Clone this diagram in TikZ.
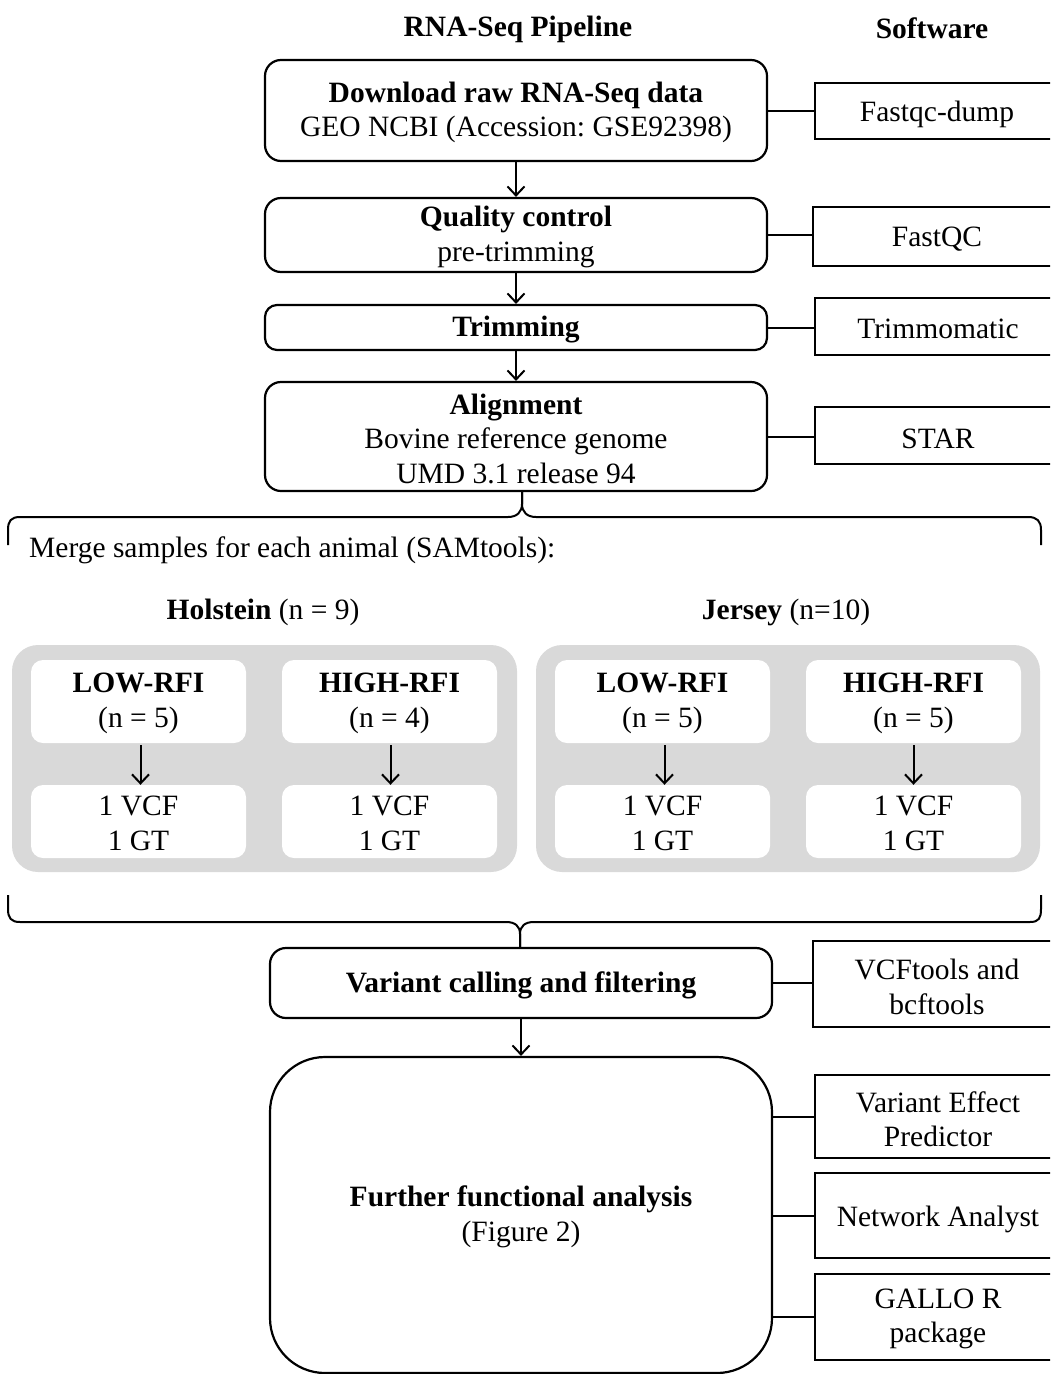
\documentclass[tikz,border=0pt]{standalone}
\usepackage{fontspec}
\setmainfont{Liberation Serif}
\usetikzlibrary{arrows.meta}
\definecolor{panelgray}{HTML}{D9D9D9}
\frenchspacing
\begin{document}
\begin{tikzpicture}[x=1pt,y=-1pt,
  every node/.style={font=\fontsize{29.5}{34.5}\selectfont, align=center, inner sep=0pt},
  pipe/.style={draw, line width=2.2pt, rounded corners=16pt},
  soft/.style={draw, line width=2pt},
  panel/.style={fill=panelgray, rounded corners=26pt},
  inbox/.style={fill=white, rounded corners=12pt},
  arr/.style={line width=2pt, -{Straight Barb[length=9pt,width=17pt,line width=2pt]}},
  link/.style={line width=2pt},
  lbl/.style={yshift=-2pt},
]
\clip (0,0) rectangle (1050,1374);
\useasboundingbox (0,0) rectangle (1050,1374);

% titles
\node[font=\fontsize{29.5}{34.5}\selectfont\bfseries] (tpipe) at (518,29) {RNA-Seq Pipeline};
\node[font=\fontsize{29.5}{34.5}\selectfont\bfseries] (tsoft) at (932,28) {Software};

% pipeline boxes
\node[pipe, minimum width=502pt, minimum height=101pt] (b1) at (516,110.5) {};
\node[lbl] (b1t) at (b1) {\textbf{Download raw RNA-Seq data}\\GEO NCBI (Accession: GSE92398)};
\node[pipe, minimum width=502pt, minimum height=74pt] (b2) at (516,235) {};
\node[lbl] (b2t) at (b2) {\textbf{Quality control}\\pre-trimming};
\node[pipe, minimum width=502pt, minimum height=45pt, rounded corners=12pt] (b3) at (516,327.5) {};
\node[lbl] (b3t) at (b3) {\textbf{Trimming}};
\node[pipe, minimum width=502pt, minimum height=109pt] (b4) at (516,436.5) {};
\node[lbl] (b4t) at (b4) {\textbf{Alignment}\\Bovine reference genome\\UMD 3.1 release 94};

% software boxes
\node[soft, minimum width=245pt, minimum height=56pt] (s1) at (937.5,111) {};
\node[lbl] (s1t) at (937,112) {Fastqc-dump};
\node[soft, minimum width=247pt, minimum height=59pt] (s2) at (936.5,236.5) {};
\node[lbl] (s2t) at (937,237) {FastQC};
\node[soft, minimum width=245pt, minimum height=57pt] (s3) at (937.5,326.5) {};
\node[lbl] (s3t) at (938,327) {Trimmomatic};
\node[soft, minimum width=245pt, minimum height=57pt] (s4) at (937.5,435.5) {};
\node[lbl] (s4t) at (938,437) {STAR};

\draw[link] (b1.east) -- (b1.east -| s1.west);
\draw[link] (b2.east) -- (b2.east -| s2.west);
\draw[link] (b3.east) -- (b3.east -| s3.west);
\draw[link] (b4.east) -- (b4.east -| s4.west);

\draw[arr] (b1.south) -- (b2.north);
\draw[arr] (b2.south) -- (b3.north);
\draw[arr] (b3.south) -- (b4.north);

% top brace
\coordinate (br1) at (522,491);
\draw[link] (8,545) -- (8,530) .. controls (8,521) and (11,517) .. (20,517) -- (508,517)
  .. controls (517,517) and (522,512) .. (522,504) -- (br1);
\draw[link] (br1) -- (522,504) .. controls (522,512) and (527,517) .. (536,517) -- (1028,517)
  .. controls (1037,517) and (1041,521) .. (1041,530) -- (1041,545);

\node[anchor=west, lbl] (merge) at (29,548) {Merge samples for each animal (SAMtools):};

\node[lbl] (hol) at (263,610) {\textbf{Holstein} (n = 9)};
\node[lbl] (jer) at (786,610) {\textbf{Jersey} (n=10)};

% panels
\node[panel, minimum width=505pt, minimum height=227pt] (p1) at (264.5,758.5) {};
\node[panel, minimum width=504pt, minimum height=227pt] (p2) at (788,758.5) {};

\node[inbox, minimum width=215pt, minimum height=83pt] (l1) at (138.5,701.5) {};
\node[inbox, minimum width=215pt, minimum height=83pt] (h1) at (389.5,701.5) {};
\node[inbox, minimum width=215pt, minimum height=83pt] (l2) at (662.5,701.5) {};
\node[inbox, minimum width=215pt, minimum height=83pt] (h2) at (913.5,701.5) {};
\node[lbl] (l1t) at (l1) {\textbf{LOW-RFI}\\(n = 5)};
\node[lbl] (h1t) at (h1) {\textbf{HIGH-RFI}\\(n = 4)};
\node[lbl] (l2t) at (l2) {\textbf{LOW-RFI}\\(n = 5)};
\node[lbl] (h2t) at (h2) {\textbf{HIGH-RFI}\\(n = 5)};

\node[inbox, minimum width=215pt, minimum height=73pt] (vl1) at (138.5,821.5) {};
\node[inbox, minimum width=215pt, minimum height=73pt] (vh1) at (389.5,821.5) {};
\node[inbox, minimum width=215pt, minimum height=73pt] (vl2) at (662.5,821.5) {};
\node[inbox, minimum width=215pt, minimum height=73pt] (vh2) at (913.5,821.5) {};
\node[lbl] (vl1t) at (vl1) {1 VCF\\1 GT};
\node[lbl] (vh1t) at (vh1) {1 VCF\\1 GT};
\node[lbl] (vl2t) at (vl2) {1 VCF\\1 GT};
\node[lbl] (vh2t) at (vh2) {1 VCF\\1 GT};

\draw[arr] (l1.south) ++(2,2) coordinate (a1) (a1) -- (a1 |- vl1.north);
\draw[arr] (h1.south) ++(1,2) coordinate (a2) (a2) -- (a2 |- vh1.north);
\draw[arr] (l2.south) ++(2,2) coordinate (a3) (a3) -- (a3 |- vl2.north);
\draw[arr] (h2.south) ++(0,2) coordinate (a4) (a4) -- (a4 |- vh2.north);

% bottom brace
\coordinate (br2) at (520,948);
\draw[link] (8,895) -- (8,909) .. controls (8,918) and (11,922) .. (20,922) -- (506,922)
  .. controls (515,922) and (520,926) .. (520,934) -- (br2);
\draw[link] (br2) -- (520,934) .. controls (520,926) and (525,922) .. (534,922) -- (1030,922)
  .. controls (1039,922) and (1041,918) .. (1041,909) -- (1041,895);

\node[pipe, minimum width=502pt, minimum height=70pt] (b5) at (521,983) {};
\node[lbl] (b5t) at (b5) {\textbf{Variant calling and filtering}};
\node[pipe, minimum width=502pt, minimum height=316pt, rounded corners=55pt] (b6) at (521,1215) {};
\node[lbl] (b6t) at (b6) {\textbf{Further functional analysis}\\(Figure 2)};

\node[soft, minimum width=247pt, minimum height=86pt] (s5) at (936.5,984) {};
\node[lbl] (s5t) at (937,985) {VCFtools and\\bcftools};
\node[soft, minimum width=245pt, minimum height=83pt] (s6) at (937.5,1116.5) {};
\node[lbl] (s6t) at (938,1117) {Variant Effect\\Predictor};
\node[soft, minimum width=245pt, minimum height=85pt] (s7) at (937.5,1215.5) {};
\node[lbl] (s7t) at (938,1217) {Network Analyst};
\node[soft, minimum width=245pt, minimum height=86pt] (s8) at (937.5,1317) {};
\node[lbl] (s8t) at (938,1317) {GALLO R\\package};

\draw[link] (b5.east) -- (b5.east -| s5.west);
\draw[link] (b6.east |- s6.west) -- (s6.west);
\draw[link] (b6.east |- s7.west) -- (s7.west);
\draw[link] (b6.east |- s8.west) -- (s8.west);

\draw[arr] (b5.south) -- (b6.north);
\end{tikzpicture}
\end{document}
